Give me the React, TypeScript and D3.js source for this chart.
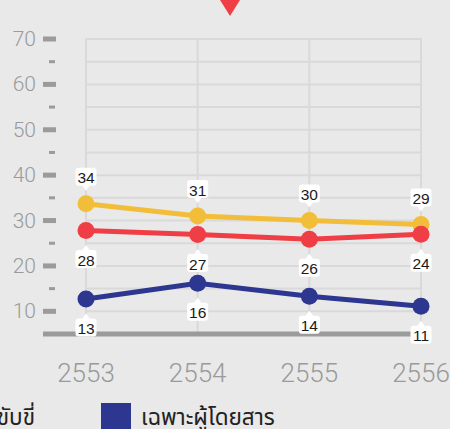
import React from "react";
import * as d3 from "d3";

const years = ["2553", "2554", "2555", "2556"];
const yellowValues = [33.7, 31.0, 30.0, 29.1];
const yellowLabels = ["34", "31", "30", "29"];
const redValues = [27.8, 26.9, 25.9, 27.0];
const redLabels = ["28", "27", "26", "24"];
const blueValues = [12.7, 16.2, 13.3, 11.1];
const blueLabels = ["13", "16", "14", "11"];
const majorTicks = [10, 20, 30, 40, 50, 60, 70];
const minorTicks = [15, 25, 35, 45, 55, 65];
const gridValues = [10, 15, 20, 25, 30, 35, 40, 45, 50, 55, 60, 65, 70];
const legendLeftText = "ขับขี่";
const legendRightText = "เฉพาะผู้โดยสาร";

const W = 450;
const H = 429;
const BG = "#e9e9e9";
const GRID = "#d9d9d9";
const AXIS = "#9b9b9b";
const LABEL_GRAY = "#9a9a9a";
const YELLOW = "#f2be3a";
const RED = "#ef3e46";
const BLUE = "#2e3790";

const series = [
  { values: yellowValues, labels: yellowLabels, color: YELLOW, above: true },
  { values: redValues, labels: redLabels, color: RED, above: false },
  { values: blueValues, labels: blueLabels, color: BLUE, above: false },
];

export default function App() {
  const x = d3.scalePoint<string>().domain(years).range([86, 421]).padding(0);
  const y = d3.scaleLinear().domain([5, 70]).range([334, 39]);
  const line = d3
    .line<number>()
    .x((_, i) => x(years[i]) as number)
    .y((d) => y(d));

  const numFont = "'Liberation Sans', Arial, Helvetica, sans-serif";
  const thinFont = "'Helvetica Neue', Roboto, 'Liberation Sans', Arial, sans-serif";
  const thaiFont = "'Noto Sans Thai', 'Noto Sans Thai UI', 'Loma', 'Garuda', 'Tlwg Typist', 'Noto Sans', sans-serif";

  return (
    <svg
      width={W}
      height={H}
      style={{ position: "absolute", left: 0, top: 0, display: "block" }}
    >
      <rect x={0} y={0} width={W} height={H} fill={BG} />
      {/* top marker */}
      <path d="M220,0 L240,0 L230,16 Z" fill={RED} />

      {/* grid */}
      {gridValues.map((v) => (
        <line key={"g" + v} x1={86} x2={421} y1={y(v)} y2={y(v)} stroke={GRID} strokeWidth={2} />
      ))}
      {years.map((yr) => (
        <line key={"v" + yr} x1={x(yr)} x2={x(yr)} y1={y(70) - 1} y2={y(5)} stroke={GRID} strokeWidth={2} />
      ))}

      {/* y ticks */}
      {majorTicks.map((v) => (
        <g key={"mt" + v}>
          <rect x={43} y={y(v) - 2.5} width={13} height={5} fill={AXIS} />
          <text
            x={36}
            y={y(v)}
            textAnchor="end"
            dominantBaseline="central"
            fontSize={21}
            fontWeight={300}
            fill={LABEL_GRAY}
            fontFamily={thinFont}
          >
            {v}
          </text>
        </g>
      ))}
      {minorTicks.map((v) => (
        <rect key={"mn" + v} x={49} y={y(v) - 1.5} width={6} height={3} fill={AXIS} />
      ))}

      {/* baseline */}
      <rect x={43} y={y(5) - 2.5} width={378} height={5} fill={AXIS} />

      {/* x labels */}
      {years.map((yr) => (
        <text
          key={"xl" + yr}
          x={x(yr)}
          y={382}
          textAnchor="middle"
          fontSize={26}
          fontWeight={300}
          fill={LABEL_GRAY}
          fontFamily={thinFont}
        >
          {yr}
        </text>
      ))}

      {/* lines */}
      {series.map((s, si) => (
        <g key={"s" + si}>
          <path d={line(s.values) || ""} fill="none" stroke={s.color} strokeWidth={5} />
          {s.values.map((v, i) => (
            <circle key={i} cx={x(years[i])} cy={y(v)} r={8.5} fill={s.color} />
          ))}
        </g>
      ))}

      {/* value labels */}
      {series.map((s, si) =>
        s.values.map((v, i) => {
          const cx = x(years[i]) as number;
          const cy = y(v);
          const bw = 21;
          const bh = 18;
          const top = s.above ? cy - 36 : cy + 19.5;
          const tri = s.above
            ? `M${cx - 4},${top + bh - 0.5} L${cx + 4},${top + bh - 0.5} L${cx},${top + bh + 5} Z`
            : `M${cx - 4},${top + 0.5} L${cx + 4},${top + 0.5} L${cx},${top - 5} Z`;
          return (
            <g key={"lb" + si + "-" + i}>
              <rect x={cx - bw / 2} y={top} width={bw} height={bh} rx={3} fill="#ffffff" />
              <path d={tri} fill="#ffffff" />
              <text
                x={cx}
                y={top + bh / 2 + 1}
                textAnchor="middle"
                dominantBaseline="central"
                fontSize={15.5}
                fill="#1a1a1a"
                fontFamily={numFont}
              >
                {s.labels[i]}
              </text>
            </g>
          );
        })
      )}

      {/* legend */}
      <text x={35} y={425} textAnchor="end" fontSize={22.5} fill="#222" fontFamily={thaiFont}>
        {legendLeftText}
      </text>
      <rect x={101} y={403} width={30} height={30} fill={BLUE} />
      <text x={141} y={425} fontSize={22.5} fill="#222" fontFamily={thaiFont}>
        {legendRightText}
      </text>
    </svg>
  );
}
